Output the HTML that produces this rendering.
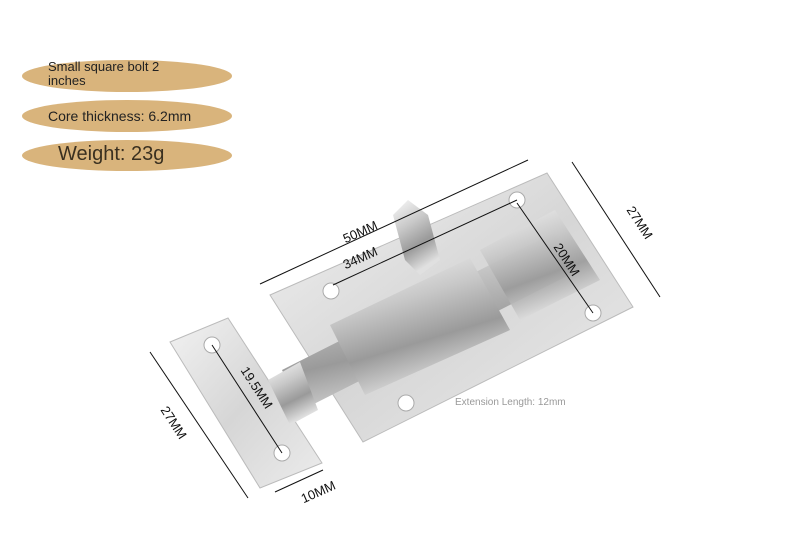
<!DOCTYPE html>
<html><head><style>
html,body{margin:0;padding:0;background:#fff;}
body{width:800px;height:533px;position:relative;overflow:hidden;font-family:"Liberation Sans",sans-serif;}
.pill{position:absolute;left:22px;width:210px;background:#d9b47c;border-radius:50%;color:#222;}
</style></head><body>
<div class="pill" style="top:60px;height:32px;"><div style="position:absolute;left:26px;top:0px;font-size:13px;line-height:14px;">Small square bolt 2<br>inches</div></div>
<div class="pill" style="top:100px;height:32px;"><div style="position:absolute;left:26px;top:8px;font-size:14px;">Core thickness: 6.2mm</div></div>
<div class="pill" style="top:140px;height:31px;"><div style="position:absolute;left:36px;top:3px;font-size:20px;color:#3a3020;">Weight: 23g</div></div>
<svg width="800" height="533" style="position:absolute;left:0;top:0" xmlns="http://www.w3.org/2000/svg">
<defs>
<linearGradient id="m" x1="0" y1="0" x2="1" y2="1"><stop offset="0" stop-color="#f2f2f2"/><stop offset="0.5" stop-color="#d6d6d6"/><stop offset="1" stop-color="#ececec"/></linearGradient>
<linearGradient id="c" x1="0" y1="0" x2="0.4" y2="1"><stop offset="0" stop-color="#fafafa"/><stop offset="0.4" stop-color="#c8c8c8"/><stop offset="0.7" stop-color="#9a9a9a"/><stop offset="1" stop-color="#e0e0e0"/></linearGradient>
</defs>
<polygon points="270,295 547,173 633,307 363,442" fill="url(#m)" stroke="#bbb"/>
<polygon points="170,342 228,318 322,463 260,488" fill="url(#m)" stroke="#bbb"/>
<!-- bolt rod -->
<polygon points="282,370 555,232 575,272 302,410" fill="url(#c)"/>
<!-- housing -->
<polygon points="330,325 470,258 510,330 365,395" fill="url(#c)"/>
<polygon points="480,250 555,210 600,280 520,320" fill="url(#c)" opacity="0.9"/>
<!-- handle -->
<polygon points="393,215 408,200 428,215 440,260 420,275 405,260" fill="url(#c)"/>
<polygon points="268,380 300,362 318,410 290,425" fill="url(#c)"/>
<g fill="#fff" stroke="#aaa">
<circle cx="331" cy="291" r="8"/><circle cx="517" cy="200" r="8"/><circle cx="593" cy="313" r="8"/><circle cx="406" cy="403" r="8"/>
<circle cx="212" cy="345" r="8"/><circle cx="282" cy="453" r="8"/>
</g>
<g stroke="#111" stroke-width="1">
<line x1="260" y1="284" x2="528" y2="160"/>
<line x1="572" y1="162" x2="660" y2="297"/>
<line x1="333" y1="285" x2="517" y2="200"/>
<line x1="517" y1="203" x2="593" y2="313"/>
<line x1="212" y1="345" x2="282" y2="453"/>
<line x1="150" y1="352" x2="248" y2="498"/>
<line x1="275" y1="492" x2="323" y2="470"/>
</g>
<g font-size="13" fill="#111" font-family="Liberation Sans, sans-serif" text-anchor="middle">
<text transform="translate(362,236) rotate(-24)">50MM</text>
<text transform="translate(362,262) rotate(-24)">34MM</text>
<text transform="translate(636,225) rotate(57)">27MM</text>
<text transform="translate(563,262) rotate(57)">20MM</text>
<text transform="translate(253,390) rotate(57)">19.5MM</text>
<text transform="translate(170,425) rotate(57)">27MM</text>
<text transform="translate(320,496) rotate(-24)">10MM</text>
</g>
<text x="455" y="405" font-size="10" fill="#999" font-family="Liberation Sans, sans-serif">Extension Length: 12mm</text>
</svg>
</body></html>
